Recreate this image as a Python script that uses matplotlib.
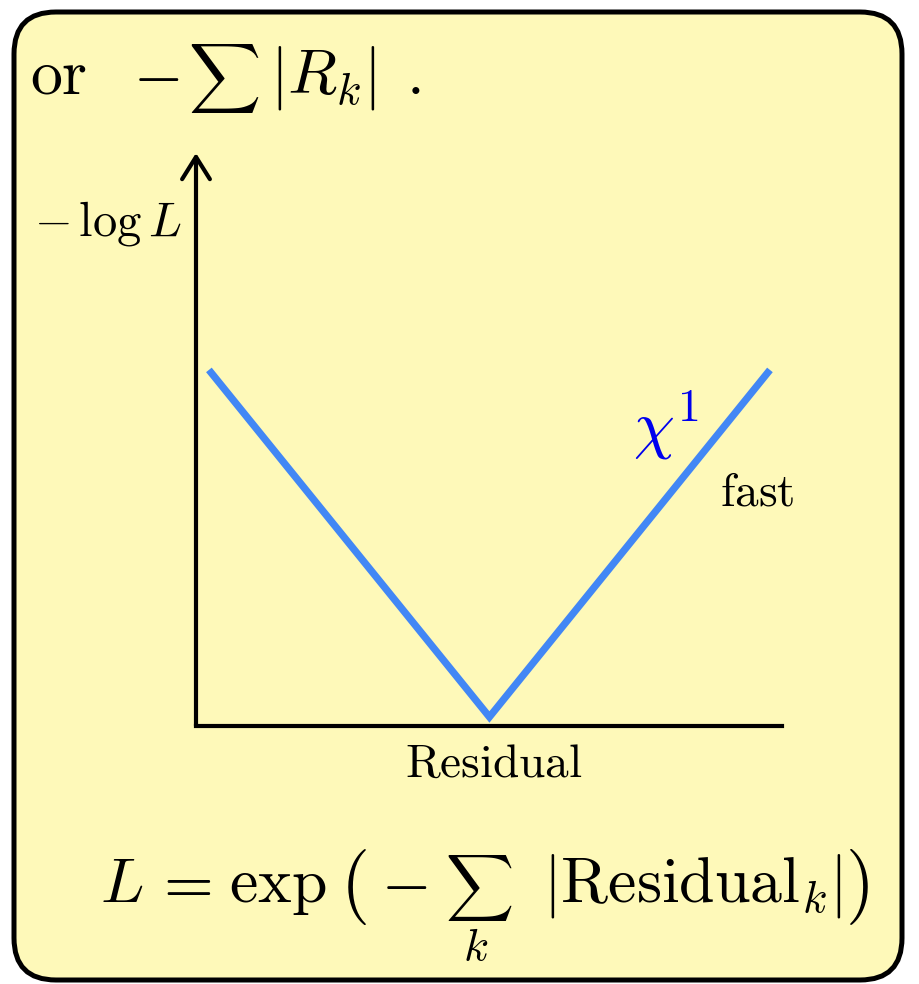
import matplotlib
matplotlib.use("Agg")
from matplotlib import pyplot as plt
from matplotlib.patches import FancyBboxPatch, FancyArrowPatch

plt.rcParams["mathtext.fontset"] = "cm"
plt.rcParams["font.family"] = "serif"

# dados: a curva |R| (perda L1)
residual = [-1.0, 0.0, 1.0]
neg_log_L = [1.0, 0.0, 1.0]

rotulo_y = r"$-\,\log L$"
rotulo_x = r"$\mathrm{Residual}$"
rotulo_curva = r"$\chi^1$"
rotulo_fast = r"$\mathrm{fast}$"

W, H = 919, 984
fig = plt.figure(figsize=(W / 100, H / 100), dpi=100)

# fundo: caixa amarela arredondada (coordenadas em pixels)
fundo = fig.add_axes([0, 0, 1, 1])
fundo.set_xlim(0, W)
fundo.set_ylim(H, 0)
fundo.axis("off")
caixa = FancyBboxPatch((14, 12), 888, 968,
                       boxstyle="round,pad=0,rounding_size=42",
                       facecolor="#fef9b9", edgecolor="black", linewidth=3.6)
fundo.add_patch(caixa)

# linha de cima: "or  -sum |R_k| ."
fs = 46
fundo.text(30, 94, r"$\mathrm{or}$", fontsize=fs, va="baseline")
fundo.text(133, 94, r"$-$", fontsize=fs, va="baseline")
fundo.text(188, 79, r"$\sum$", fontsize=36, va="center")
fundo.text(270, 94, r"$|R_k|$", fontsize=fs, va="baseline")
fundo.text(406, 94, r"$.$", fontsize=fs, va="baseline")

# rotulos do grafico
fundo.text(181, 235, rotulo_y, fontsize=35, va="baseline", ha="right")
fundo.text(494, 777, rotulo_x, fontsize=34, va="baseline", ha="center")
fundo.text(633, 447, rotulo_curva, fontsize=47, va="baseline", ha="left", color="#0000ee")
fundo.text(720, 506, rotulo_fast, fontsize=34, va="baseline", ha="left")

# formula de baixo: L = exp( - sum_k |Residual_k| )
fundo.text(100, 902, r"$L$", fontsize=fs, va="baseline")
fundo.text(152, 902, r"$=$", fontsize=fs, va="baseline")
fundo.text(229, 902, r"$\exp$", fontsize=fs, va="baseline")
fundo.text(340, 887, r"$($", fontsize=54, va="center")
fundo.text(381, 902, r"$-$", fontsize=fs, va="baseline")
fundo.text(445, 888, r"$\sum$", fontsize=34, va="center")
fundo.text(476, 960, r"$k$", fontsize=33, va="baseline", ha="center")
fundo.text(543, 902, r"$|\mathrm{Residual}_k|$", fontsize=fs, va="baseline")
fundo.text(845, 887, r"$)$", fontsize=54, va="center")

# grafico: eixos em pixels -> fracoes da figura
x0, x1 = 196, 782
y0, y1 = 726, 153
ax = fig.add_axes([x0 / W, 1 - y0 / H, (x1 - x0) / W, (y0 - y1) / H])
ax.patch.set_alpha(0)
ax.plot(residual, neg_log_L, color="#4287f5", linewidth=5.2,
        solid_capstyle="butt", solid_joinstyle="miter")
ax.set_xlim(-1.046, 1.043)
ax.set_ylim(-0.026, 1.625)
ax.set_xticks([])
ax.set_yticks([])
for lado in ["top", "right", "left"]:
    ax.spines[lado].set_visible(False)
ax.spines["bottom"].set_linewidth(3.0)

# eixo vertical com seta
seta = FancyArrowPatch((0, 0), (0, 1), transform=ax.transAxes,
                       arrowstyle="->,head_length=16,head_width=10",
                       mutation_scale=1, linewidth=3.0, color="black",
                       shrinkA=0, shrinkB=0, clip_on=False)
ax.add_patch(seta)

fig.savefig("out.png", dpi=100)
